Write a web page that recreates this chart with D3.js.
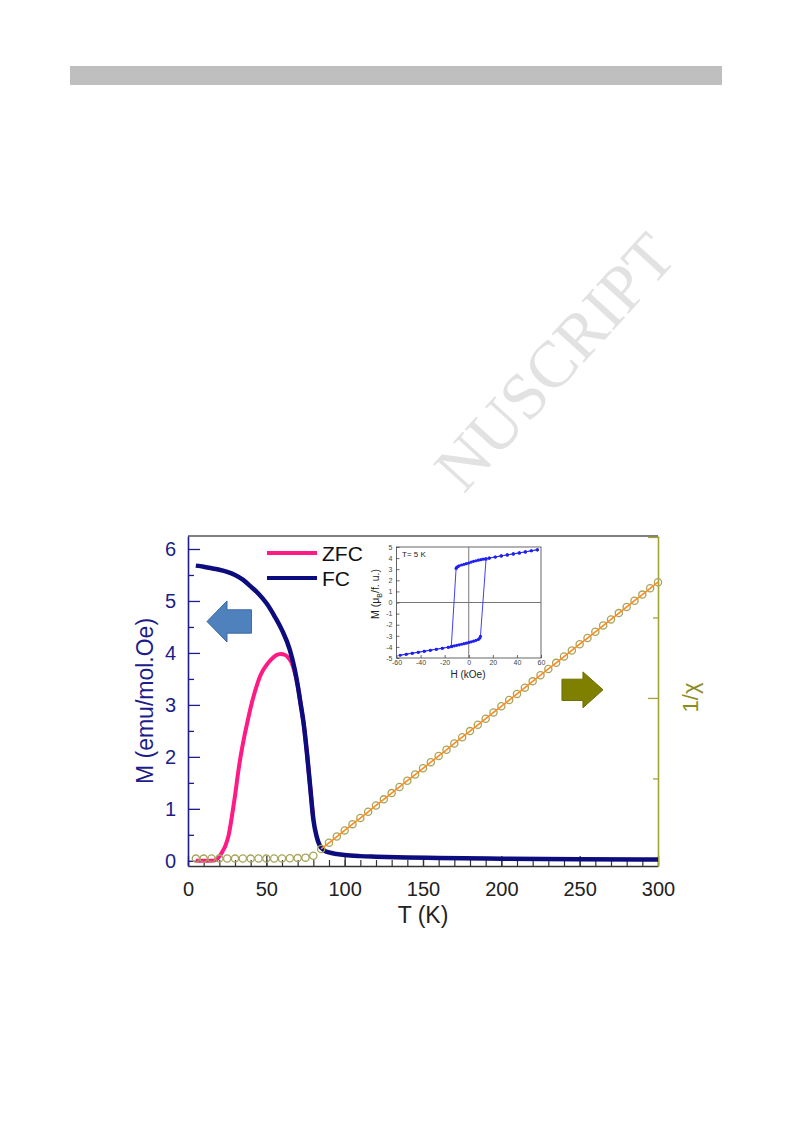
<!DOCTYPE html>
<html><head><meta charset="utf-8">
<script src="https://cdn.jsdelivr.net/npm/d3@7"></script>
<style>body{margin:0;background:#fff}svg{display:block}</style>
</head><body>
<svg id="c" width="793" height="1123"></svg>
<script>
// ---------- data ----------
const fcT = [5,10,15,20,25,30,35,40,45,50,55,60,65,68,70,72,74,76,78,80,82,84,87,90,95,100,110,120,140,160,200,250,300];
const fcM = [5.68,5.66,5.63,5.6,5.56,5.5,5.41,5.28,5.14,4.96,4.72,4.44,4.06,3.7,3.38,3.0,2.6,2.05,1.42,0.8,0.48,0.3,0.2,0.16,0.13,0.11,0.09,0.08,0.065,0.055,0.04,0.03,0.025];
const zfcT = [5,10,15,18,20,22,24,26,28,30,32,34,36,38,40,42,44,46,48,50,53,56,59,62,64,66,68,70,72,74,76,78,80];
const zfcM = [0.0,0.0,0.0,0.02,0.08,0.18,0.3,0.5,0.85,1.25,1.7,2.08,2.4,2.68,2.95,3.18,3.38,3.55,3.67,3.76,3.87,3.95,3.98,3.96,3.91,3.82,3.64,3.38,3.0,2.6,2.05,1.42,0.8];
const chiT = [5,10,15,20,25,30,35,40,45,50,55,60,65,70,75,80,85,90,95,100,105,110,115,120,125,130,135,140,145,150,155,160,165,170,175,180,185,190,195,200,205,210,215,220,225,230,235,240,245,250,255,260,265,270,275,280,285,290,295,300];
const chiV = [0.2,0.2,0.3,0.2,0.3,0.2,0.3,0.2,0.3,0.2,0.3,0.3,0.4,0.5,0.8,2.0,6.2,10.0,13.9,17.7,21.6,25.4,29.3,33.2,37.0,40.9,44.7,48.6,52.4,56.3,60.1,64.0,67.8,71.7,75.6,79.4,83.3,87.1,91.0,94.8,98.7,102.5,106.4,110.3,114.1,118.0,121.8,125.7,129.5,133.4,137.2,141.1,145.0,148.8,152.7,156.5,160.4,164.2,168.1,171.9];
const loopH = [57,52,47,42,37,32,27,22,17,14,12,10,8,6,4,2,0,-2,-4,-6,-8,-9,-10,-10.5,-14.5,-17,-22,-27,-32,-37,-42,-47,-52,-57,-52,-47,-42,-37,-32,-27,-22,-17,-14,-12,-10,-8,-6,-4,-2,0,2,4,6,8,9,9.7,14.4,17,22,27,32,37,42,47,52,57];
const loopM = [4.75,4.66,4.56,4.47,4.38,4.29,4.2,4.1,4.0,3.93,3.9,3.86,3.81,3.76,3.71,3.64,3.56,3.5,3.44,3.38,3.3,3.24,3.16,3.07,-3.98,-4.03,-4.12,-4.21,-4.3,-4.39,-4.48,-4.57,-4.66,-4.75,-4.66,-4.57,-4.48,-4.39,-4.3,-4.21,-4.12,-4.03,-3.95,-3.9,-3.86,-3.81,-3.76,-3.71,-3.66,-3.6,-3.54,-3.48,-3.41,-3.33,-3.22,-3.06,3.93,4.0,4.1,4.2,4.29,4.38,4.47,4.56,4.66,4.75];
const xTicks = [0,50,100,150,200,250,300];
const xMinor = d3.range(0,301,10);
const yTicks = [0,1,2,3,4,5,6];
const yMinor = [0.5,1.5,2.5,3.5,4.5,5.5];
const rMajor = [100,200];
const rMinor = [50,150];
const insetXTicks = [-60,-40,-20,0,20,40,60];
const insetYTicks = [-5,-4,-3,-2,-1,0,1,2,3,4,5];
const seriesNames = ["ZFC","FC"];
const seriesColors = ["#ff1a85","#0c0c7e"];

// ---------- setup ----------
const svg = d3.select("#c");
const FONT = "'Liberation Sans', Arial, sans-serif";
const x = d3.scaleLinear().domain([0,300]).range([188,658]);
const y = d3.scaleLinear().domain([-0.1,6.25]).range([866,536]);
const y2 = d3.scaleLinear().domain([-4.4,200.6]).range([866,536]);
const intFmt = d => String(d).replace("\u2212","-");

// watermark
svg.append("text").attr("transform","translate(555,362) rotate(-47.7)")
  .attr("text-anchor","middle").attr("dy","0.33em")
  .attr("font-family","'Liberation Serif','Times New Roman',serif")
  .attr("font-size",66).attr("fill","#e2e2e2").text("NUSCRIPT");

// header bar
svg.append("rect").attr("x",70).attr("y",66).attr("width",652).attr("height",19).attr("fill","#bfbfbf");

// ---------- axes ----------
const navy = "#1c1c8a", olive = "#a3a336";
svg.append("line").attr("x1",x(0)).attr("x2",x(300)).attr("y1",y.range()[1]).attr("y2",y.range()[1])
  .attr("stroke","#555").attr("stroke-width",1.3);

svg.append("g").attr("transform",`translate(0,${y.range()[0]})`)
  .call(d3.axisBottom(x).tickValues(xMinor).tickSize(-6).tickSizeOuter(0).tickFormat(""))
  .call(g=>{g.selectAll("line").attr("stroke","#333").attr("stroke-width",1.2);g.select(".domain").remove();});
const gx = svg.append("g").attr("transform",`translate(0,${y.range()[0]})`)
  .call(d3.axisBottom(x).tickValues(xTicks).tickSize(-10).tickSizeOuter(0).tickPadding(16).tickFormat(intFmt));
gx.select(".domain").attr("stroke","#333").attr("stroke-width",1.6);
gx.selectAll("line").attr("stroke","#333").attr("stroke-width",1.3);
gx.selectAll("text").attr("font-family",FONT).attr("font-size",20).attr("fill","#222");

svg.append("g").attr("transform",`translate(${x(0)},0)`)
  .call(d3.axisLeft(y).tickValues(yMinor).tickSize(-6).tickSizeOuter(0).tickFormat(""))
  .call(g=>{g.selectAll("line").attr("stroke",navy).attr("stroke-width",1.3);g.select(".domain").remove();});
const gy = svg.append("g").attr("transform",`translate(${x(0)},0)`)
  .call(d3.axisLeft(y).tickValues(yTicks).tickSize(-12).tickSizeOuter(0).tickPadding(12).tickFormat(intFmt));
gy.select(".domain").attr("stroke",navy).attr("stroke-width",1.6);
gy.selectAll("line").attr("stroke",navy).attr("stroke-width",1.3);
gy.selectAll("text").attr("font-family",FONT).attr("font-size",20).attr("fill",navy);

svg.append("g").attr("transform",`translate(${x(300)},0)`)
  .call(d3.axisRight(y2).tickValues(rMinor).tickSize(-5).tickSizeOuter(0).tickFormat(""))
  .call(g=>{g.selectAll("line").attr("stroke",olive).attr("stroke-width",1.3);g.select(".domain").remove();});
const gr = svg.append("g").attr("transform",`translate(${x(300)},0)`)
  .call(d3.axisRight(y2).tickValues(rMajor).tickSize(-10).tickSizeOuter(0).tickFormat(""));
gr.select(".domain").attr("stroke",olive).attr("stroke-width",1.6);
gr.selectAll("line").attr("stroke",olive).attr("stroke-width",1.3);

svg.append("text").attr("x",423).attr("y",922.5).attr("text-anchor","middle")
  .attr("font-family",FONT).attr("font-size",23).attr("fill","#222").text("T (K)");
svg.append("text").attr("transform","translate(153,701) rotate(-90)").attr("text-anchor","middle")
  .attr("font-family",FONT).attr("font-size",23).attr("fill",navy).text("M (emu/mol.Oe)");
svg.append("text").attr("transform","translate(698,697.5) rotate(-90)").attr("text-anchor","middle")
  .attr("font-family",FONT).attr("font-size",22).attr("fill","#8c8c1e").text("1/\u03C7");

// ---------- series ----------
const zfc = zfcT.map((t,i)=>[t,zfcM[i]]);
const fc = fcT.map((t,i)=>[t,fcM[i]]);
const lineM = d3.line().x(d=>x(d[0])).y(d=>y(d[1])).curve(d3.curveMonotoneX);
svg.append("path").attr("d",lineM(zfc)).attr("fill","none").attr("stroke",seriesColors[0])
  .attr("stroke-width",4).attr("stroke-linejoin","round");
svg.append("path").attr("d",lineM(fc)).attr("fill","none").attr("stroke",seriesColors[1])
  .attr("stroke-width",4.5).attr("stroke-linejoin","round");

const chi = chiT.map((t,i)=>[t,chiV[i]]);
svg.append("g").selectAll("circle").data(chi).join("circle")
  .attr("cx",d=>x(d[0])).attr("cy",d=>y2(d[1])).attr("r",3.6)
  .attr("fill","none").attr("stroke","#a8a45c").attr("stroke-width",1.3);
const lineChi = d3.line().x(d=>x(d[0])).y(d=>y2(d[1]));
svg.append("path").attr("d",lineChi(chi.filter(d=>d[0]>=85))).attr("fill","none")
  .attr("stroke","#ff8a1c").attr("stroke-width",1.6);

// ---------- arrows ----------
function arrow(tip, back, end, yc, headHalf, bodyHalf){
  return [[tip,yc],[back,yc+headHalf],[back,yc+bodyHalf],[end,yc+bodyHalf],[end,yc-bodyHalf],[back,yc-bodyHalf],[back,yc-headHalf]];
}
const ptsBlue = arrow(12.1,24.9,40.5,4.605,0.395,0.225).map(p=>[x(p[0]),y(p[1])]);
svg.append("polygon").attr("points",ptsBlue.map(p=>p.join(",")).join(" "))
  .attr("fill","#4f81bd").attr("stroke","#3c6aa3").attr("stroke-width",1);
const ptsOlive = arrow(264.9,252.1,238.7,3.29,0.345,0.205).map(p=>[x(p[0]),y(p[1])]);
svg.append("polygon").attr("points",ptsOlive.map(p=>p.join(",")).join(" "))
  .attr("fill","#7f7f00").attr("stroke","#6e6e00").attr("stroke-width",1);

// ---------- legend ----------
seriesNames.forEach((n,i)=>{
  const ly = 553 + i*25;
  svg.append("line").attr("x1",267).attr("x2",317).attr("y1",ly).attr("y2",ly)
    .attr("stroke",seriesColors[i]).attr("stroke-width",4);
  svg.append("text").attr("x",322).attr("y",ly+8).attr("font-family",FONT)
    .attr("font-size",21).attr("fill","#111").text(n);
});

// ---------- inset ----------
const ix = d3.scaleLinear().domain([-60,60]).range([396.5,541]);
const iy = d3.scaleLinear().domain([-5,5]).range([658,547]);
const ins = svg.append("g");
ins.append("rect").attr("x",ix(-60)).attr("y",iy(5)).attr("width",ix(60)-ix(-60)).attr("height",iy(-5)-iy(5))
  .attr("fill","#fff").attr("stroke","#555").attr("stroke-width",0.9);
ins.append("line").attr("x1",ix(0)).attr("x2",ix(0)).attr("y1",iy(5)).attr("y2",iy(-5)).attr("stroke","#777").attr("stroke-width",1);
ins.append("line").attr("x1",ix(-60)).attr("x2",ix(60)).attr("y1",iy(0)).attr("y2",iy(0)).attr("stroke","#777").attr("stroke-width",1);
const igx = ins.append("g").attr("transform",`translate(0,${iy(-5)})`)
  .call(d3.axisBottom(ix).tickValues(insetXTicks).tickSize(-3).tickSizeOuter(0).tickPadding(2).tickFormat(intFmt));
igx.select(".domain").remove();
igx.selectAll("line").attr("stroke","#444").attr("stroke-width",0.8);
igx.selectAll("text").attr("font-family",FONT).attr("font-size",7).attr("fill","#444");
const igy = ins.append("g").attr("transform",`translate(${ix(-60)},0)`)
  .call(d3.axisLeft(iy).tickValues(insetYTicks).tickSize(-3).tickSizeOuter(0).tickPadding(4).tickFormat(intFmt));
igy.select(".domain").remove();
igy.selectAll("line").attr("stroke","#444").attr("stroke-width",0.8);
igy.selectAll("text").attr("font-family",FONT).attr("font-size",7).attr("fill","#444");

const loop = loopH.map((h,i)=>[h,loopM[i]]);
ins.append("path").attr("d",d3.line().x(d=>ix(d[0])).y(d=>iy(d[1]))(loop))
  .attr("fill","none").attr("stroke","#2a2af5").attr("stroke-width",0.9);
ins.append("g").selectAll("circle").data(loop).join("circle")
  .attr("cx",d=>ix(d[0])).attr("cy",d=>iy(d[1])).attr("r",1.6).attr("fill","#2020f0");

ins.append("text").attr("x",402).attr("y",557).attr("font-family",FONT).attr("font-size",8).attr("fill","#222").text("T= 5 K");
ins.append("text").attr("x",468).attr("y",678).attr("text-anchor","middle").attr("font-family",FONT)
  .attr("font-size",10).attr("fill","#222").text("H (kOe)");
const iyt = ins.append("text").attr("transform","translate(379,594) rotate(-90)").attr("text-anchor","middle")
  .attr("font-family",FONT).attr("font-size",10.5).attr("fill","#222");
iyt.append("tspan").text("M (\u03BC");
iyt.append("tspan").attr("font-size",7).attr("dy",2.5).text("B");
iyt.append("tspan").attr("dy",-2.5).text("/f. u.)");
</script>
</body></html>
